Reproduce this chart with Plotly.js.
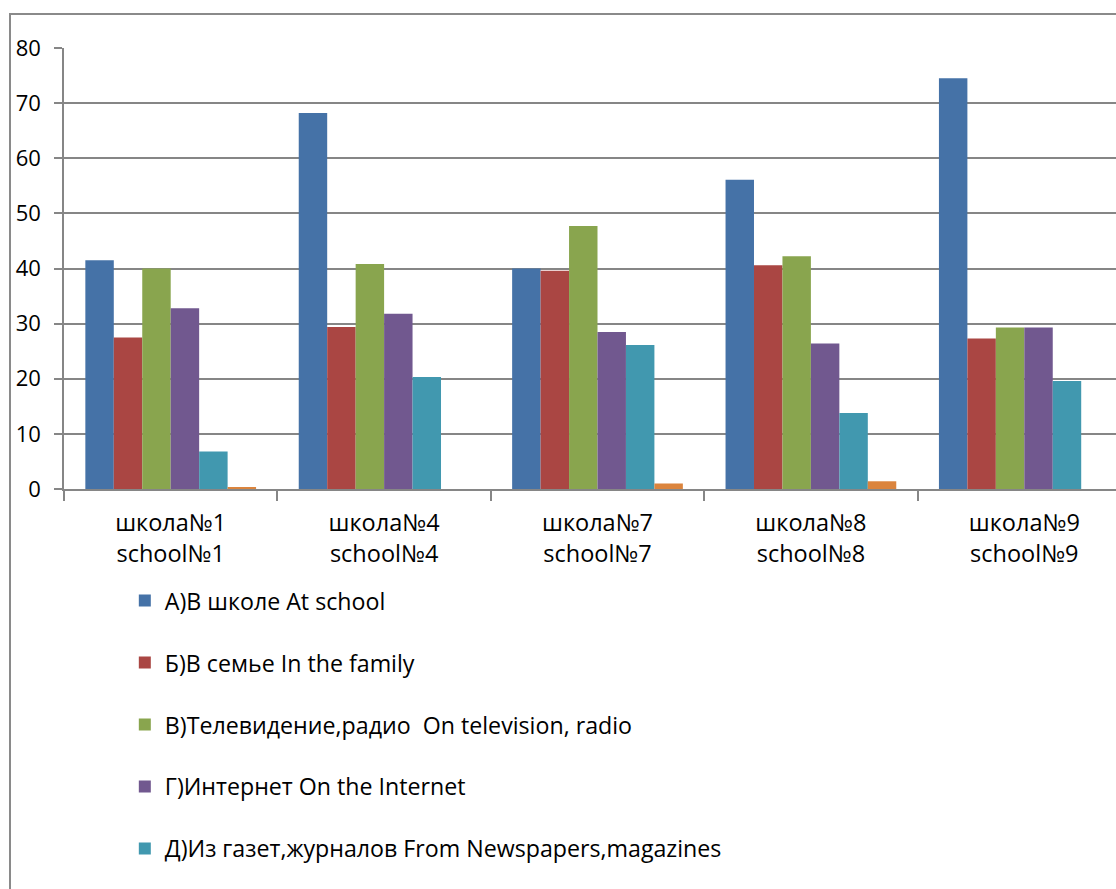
<!DOCTYPE html>
<html>
<head>
<meta charset="utf-8">
<script src="https://cdn.plot.ly/plotly-3.0.1.min.js"></script>
<style>
  html, body { margin: 0; padding: 0; overflow: hidden; background: #ffffff; }
  #frame { position: absolute; left: 9px; top: 13px; width: 1200px; height: 1000px;
           border: 2px solid #8a8a8a; box-sizing: border-box; }
  #chart { position: absolute; left: 0; top: 0; }
</style>
</head>
<body>
<div id="frame"></div>
<div id="chart"></div>
<script>
// Schools (two-line category labels)
const schoolsRu = ["школа№1", "школа№4", "школа№7", "школа№8", "школа№9"];
const schoolsEn = ["school№1", "school№4", "school№7", "school№8", "school№9"];

// Source-of-information series names
const seriesNames = [
  "А)В школе At school",
  "Б)В семье In the family",
  "В)Телевидение,радио  On television, radio",
  "Г)Интернет On the Internet",
  "Д)Из газет,журналов From Newspapers,magazines",
  "Е)"
];

// Values per series, one value per school
const atSchool    = [41.5, 68.2, 40.0, 56.1, 74.5];
const inFamily    = [27.5, 29.4, 39.6, 40.6, 27.3];
const tvRadio     = [40.0, 40.8, 47.7, 42.2, 29.3];
const internet    = [32.8, 31.8, 28.5, 26.4, 29.3];
const newspapers  = [6.8, 20.3, 26.1, 13.8, 19.6];
const otherSource = [0.3, 0, 1.0, 1.4, 0];

const seriesValues = [atSchool, inFamily, tvRadio, internet, newspapers, otherSource];
const seriesColors = ["#4572A7", "#AA4643", "#89A54E", "#71588F", "#4198AF", "#DB843D"];

const categories = schoolsRu.map((ru, i) => ru + "<br>" + schoolsEn[i]);

const traces = seriesValues.map((vals, i) => ({
  type: "bar",
  name: seriesNames[i],
  x: categories,
  y: vals,
  marker: { color: seriesColors[i], line: { width: 0 } },
  legendgroup: "g" + i,
  showlegend: i < 5,
  hoverinfo: "name+y"
}));

const W = 1136, H = 889;
const layout = {
  width: W,
  height: H,
  margin: { l: 64, r: 5, t: 48, b: 400 },
  paper_bgcolor: "rgba(0,0,0,0)",
  plot_bgcolor: "rgba(0,0,0,0)",
  font: { family: "'Open Sans', sans-serif", color: "#000000", size: 20 },
  barmode: "group",
  bargap: 0.2,
  bargroupgap: 0,
  xaxis: {
    type: "category",
    tickson: "boundaries",
    ticks: "outside",
    ticklen: 10,
    tickcolor: "#868686",
    tickwidth: 1.5,
    showline: true,
    linecolor: "#868686",
    linewidth: 1.5,
    showgrid: false,
    ticklabelstandoff: 12,
    tickfont: { size: 23.5, color: "#000000" },
    fixedrange: true
  },
  yaxis: {
    range: [0, 80],
    dtick: 10,
    ticks: "outside",
    ticklen: 8,
    tickcolor: "#868686",
    tickwidth: 1.5,
    showline: true,
    linecolor: "#868686",
    linewidth: 1.5,
    gridcolor: "#868686",
    gridwidth: 1.5,
    zeroline: false,
    ticklabelstandoff: 9,
    tickfont: { size: 22, color: "#000000" },
    fixedrange: true
  },
  legend: {
    orientation: "v",
    x: 0.057,
    xanchor: "left",
    y: -0.204,
    yanchor: "top",
    font: { size: 23.2, color: "#000000" },
    tracegroupgap: 28.8,
    bgcolor: "rgba(0,0,0,0)"
  },
  showlegend: true
};

Plotly.newPlot("chart", traces, layout, { displayModeBar: false, staticPlot: false });
</script>
</body>
</html>
